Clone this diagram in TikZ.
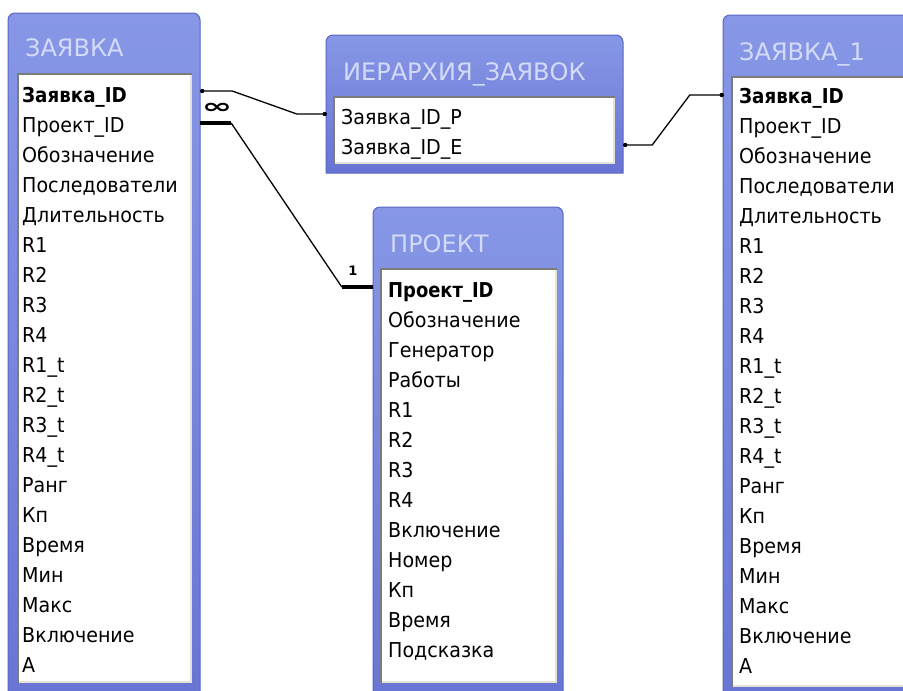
\documentclass[tikz,border=0pt]{standalone}
\usepackage{fontspec}
\usepackage{graphicx}
\setmainfont{DejaVu Sans}
\newfontfamily\fieldfont{DejaVu Sans}[FakeStretch=0.93]
\usetikzlibrary{calc,fit}
\definecolor{framehi}{HTML}{8797E6}
\definecolor{framelo}{HTML}{6874D3}
\definecolor{frameedge}{HTML}{5A66C6}
\definecolor{titletext}{HTML}{D3DBF8}
\definecolor{wellshadow}{HTML}{7C7C7C}
\definecolor{welllight}{HTML}{E6E2D8}
\tikzset{
  field/.style={anchor=base west, inner sep=0pt, font=\fieldfont\fontsize{20.5}{20.5}\selectfont, text=black},
  keyfield/.style={field, font=\fieldfont\fontsize{20.5}{20.5}\selectfont\bfseries},
  tabtitle/.style={anchor=base west, inner sep=0pt, font=\fontsize{24}{24}\selectfont, text=titletext},
  link/.style={draw=black, line width=1.3pt},
  thicklink/.style={draw=black, line width=4.5pt},
  cardlabel/.style={inner sep=0pt, font=\fontsize{13}{13}\selectfont\bfseries},
}
\newcommand\tblframe[5]{%
  \path[top color=framehi, bottom color=framelo, draw=frameedge, line width=1pt]
    (#2,#5) [rounded corners=7pt] -- (#2,#3) -- (#4,#3) -- (#4,#3+20) [sharp corners] -- (#4,#5) -- cycle;
  \node[fit={(#2,#3) (#4,#5)}, inner sep=0pt, name=#1] {};
}
\newcommand\tblwell[4]{%
  \fill[white] (#1,#2) rectangle (#3,#4);
  \draw[welllight, line width=2pt] (#3-1,#2+1) -- (#3-1,#4-1) -- (#1+1,#4-1);
  \draw[wellshadow, line width=2pt] (#1+1,#4) -- (#1+1,#2+1) -- (#3,#2+1);
}
\begin{document}
\begin{tikzpicture}[x=1pt,y=-1pt]
\useasboundingbox (0,0) rectangle (903,691);
\clip (0,0) rectangle (903,691);
\fill[white] (0,0) rectangle (903,691);

% ЗАЯВКА
\tblframe{zay}{8}{13}{200}{720}
\tblwell{17}{73}{192}{683}
\node[tabtitle] (zayt) at (25,56) {ЗАЯВКА};
\node[keyfield] (zr1) at (22,102) {\scalebox{0.96}[1]{Заявка\_ID}};
\foreach \t [count=\i from 2] in {Проект\_ID,Обозначение,Последователи,Длительность,R1,R2,R3,R4,R1\_t,R2\_t,R3\_t,R4\_t,Ранг,Кп,Время,Мин,Макс,Включение,А}
  \node[field] (zr\i) at (22,{102+30.05*(\i-1)}) {\t};

% ИЕРАРХИЯ_ЗАЯВОК
\tblframe{hier}{326}{35}{623}{173}
\tblwell{333}{96}{615}{164}
\node[tabtitle] (hiert) at (343,80) {ИЕРАРХИЯ\_ЗАЯВОК};
\node[field] (hr1) at (341,124) {Заявка\_ID\_P};
\node[field] (hr2) at (341,154) {Заявка\_ID\_E};

% ЗАЯВКА_1
\tblframe{zayb}{723}{15}{940}{720}
\tblwell{731}{76}{930}{687}
\node[tabtitle] (zaybt) at (739,60) {ЗАЯВКА\_1};
\node[keyfield] (zb1) at (739,103) {\scalebox{0.96}[1]{Заявка\_ID}};
\foreach \t [count=\i from 2] in {Проект\_ID,Обозначение,Последователи,Длительность,R1,R2,R3,R4,R1\_t,R2\_t,R3\_t,R4\_t,Ранг,Кп,Время,Мин,Макс,Включение,А}
  \node[field] (zb\i) at (739,{103+30.05*(\i-1)}) {\t};

% ПРОЕКТ
\tblframe{proj}{373}{207}{563}{720}
\tblwell{380}{268}{557}{683}
\node[tabtitle] (projt) at (390,252) {ПРОЕКТ};
\node[keyfield] (pr1) at (388,297) {\scalebox{0.94}[1]{Проект\_ID}};
\foreach \t [count=\i from 2] in {Обозначение,Генератор,Работы,R1,R2,R3,R4,Включение,Номер,Кп,Время,Подсказка}
  \node[field] (pr\i) at (388,{297+30*(\i-1)}) {\t};

% connector ЗАЯВКА -> ИЕРАРХИЯ
\coordinate (c1s) at ($(zr1.base -| zay.east)+(0,-11)$);
\coordinate (c1e) at ($(hr1.base -| hier.west)+(0,-10)$);
\draw[link] (c1s) -- ++(32,0) -- ($(c1e)+(-29,0)$) -- (c1e);
\fill (c1s) ++(2,0) circle (2.2pt);
\fill (c1e) ++(-1,0) circle (2.2pt);
\node[inner sep=0pt] (inf) at (217,108) {\scalebox{1.35}[0.75]{\fontsize{27}{27}\selectfont\bfseries ∞}};

% connector ЗАЯВКА -> ПРОЕКТ
\coordinate (c2s) at ($(zr2.base -| zay.east)+(0,-9)$);
\coordinate (c2e) at ($(pr1.base -| proj.west)+(0,-10)$);
\draw[thicklink] (c2s) -- ++(31,0) coordinate (c2a);
\draw[thicklink] ($(c2e)+(-31,0)$) coordinate (c2b) -- (c2e);
\draw[link] (c2a) -- (c2b);
\node[cardlabel] (one) at (353,271) {1};

% connector ИЕРАРХИЯ -> ЗАЯВКА_1
\coordinate (c3s) at ($(hr2.base -| hier.east)+(0,-9)$);
\coordinate (c3e) at ($(zb1.base -| zayb.west)+(0,-8)$);
\draw[link] (c3s) -- ++(29,0) -- ($(c3e)+(-33,0)$) -- (c3e);
\fill (c3s) ++(2,0) circle (2.2pt);
\fill (c3e) ++(-1,0) circle (2.2pt);
\end{tikzpicture}
\end{document}
